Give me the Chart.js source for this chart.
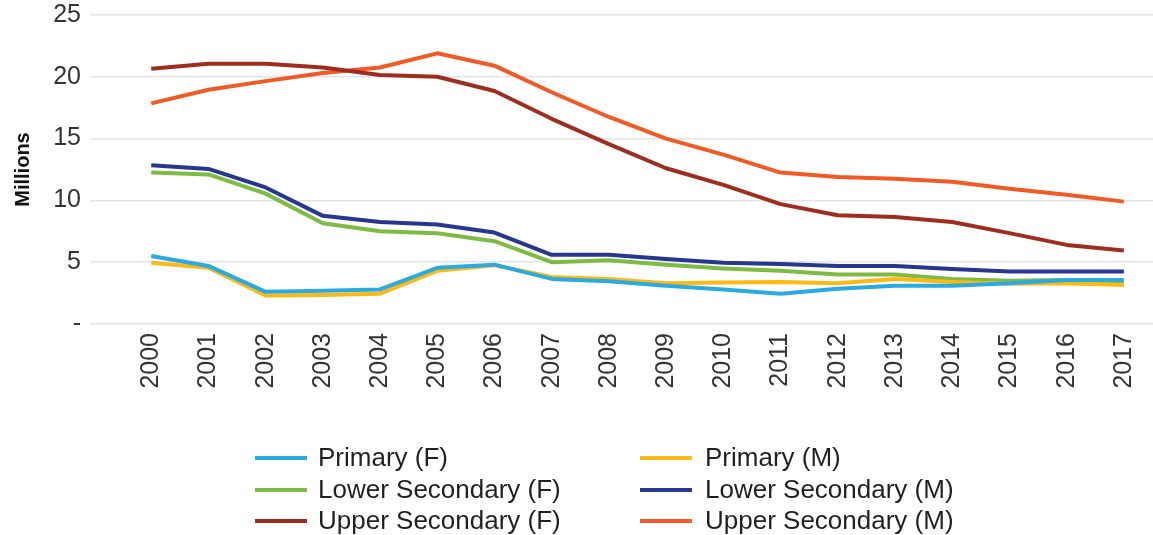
<!DOCTYPE html>
<html lang="en">
<head>
    <meta charset="UTF-8">
    <title>Enrolment by level and sex</title>
    <script src="https://cdn.jsdelivr.net/npm/chart.js"></script>
    <style>
        body { margin: 0; background: #fff; }
    </style>
</head>
<body>
    <div style="width: 1153px; height: 535px;">
        <canvas id="lineChart"></canvas>
    </div>
    <script>
        const years = [2000, 2001, 2002, 2003, 2004, 2005, 2006, 2007, 2008,
                       2009, 2010, 2011, 2012, 2013, 2014, 2015, 2016, 2017];

        const primaryF = [5.5, 4.7, 2.6, 2.7, 2.8, 4.55, 4.8, 3.65, 3.45, 3.1, 2.8, 2.45, 2.85, 3.1, 3.1, 3.3, 3.55, 3.55];
        const primaryM = [4.95, 4.55, 2.3, 2.35, 2.45, 4.3, 4.75, 3.8, 3.65, 3.3, 3.35, 3.4, 3.3, 3.65, 3.4, 3.25, 3.3, 3.15];
        const lowerSecF = [12.25, 12.1, 10.55, 8.15, 7.5, 7.35, 6.7, 5.0, 5.15, 4.8, 4.5, 4.3, 4.0, 4.0, 3.65, 3.5, 3.55, 3.35];
        const lowerSecM = [12.85, 12.55, 11.05, 8.75, 8.25, 8.05, 7.4, 5.6, 5.6, 5.25, 4.95, 4.85, 4.7, 4.7, 4.45, 4.25, 4.25, 4.25];
        const upperSecF = [20.65, 21.05, 21.05, 20.75, 20.15, 20.0, 18.85, 16.6, 14.55, 12.6, 11.25, 9.7, 8.8, 8.65, 8.25, 7.35, 6.4, 5.95];
        const upperSecM = [17.85, 18.95, 19.65, 20.3, 20.75, 21.9, 20.9, 18.75, 16.75, 15.0, 13.7, 12.25, 11.9, 11.75, 11.5, 10.95, 10.45, 9.9];

        const seriesNames = ['Primary (F)', 'Primary (M)', 'Lower Secondary (F)',
                             'Lower Secondary (M)', 'Upper Secondary (F)', 'Upper Secondary (M)'];
        const seriesValues = [primaryF, primaryM, lowerSecF, lowerSecM, upperSecF, upperSecM];
        const seriesColors = ['#29abe2', '#fdb913', '#7dbb42', '#27378f', '#9e2d20', '#f15a24'];

        const yTicks = [0, 5, 10, 15, 20, 25];

        // legend in two fixed columns, drawn on the canvas
        const gridLegend = {
            id: 'gridLegend',
            afterDraw(chart) {
                const c = chart.ctx;
                const cols = [{ sx: 255, tx: 318 }, { sx: 640, tx: 705 }];
                const rows = [458, 490, 521];
                c.save();
                c.font = '26px "Liberation Sans", Arial, sans-serif';
                c.textBaseline = 'middle';
                chart.data.datasets.forEach((ds, i) => {
                    const col = cols[i % 2];
                    const y = rows[Math.floor(i / 2)];
                    c.strokeStyle = ds.borderColor;
                    c.lineWidth = 4;
                    c.beginPath();
                    c.moveTo(col.sx, y);
                    c.lineTo(col.sx + 52, y);
                    c.stroke();
                    c.fillStyle = '#231f20';
                    c.fillText(ds.label, col.tx, y + 1);
                });
                c.restore();
            }
        };

        const ctx = document.getElementById('lineChart').getContext('2d');
        const lineChart = new Chart(ctx, {
            type: 'line',
            data: {
                datasets: seriesNames.map((name, i) => ({
                    label: name,
                    data: years.map((yr, j) => ({ x: yr, y: seriesValues[i][j] })),
                    borderColor: seriesColors[i],
                    backgroundColor: seriesColors[i],
                    borderWidth: 4,
                    pointRadius: 0,
                    tension: 0,
                    fill: false,
                    borderJoinStyle: 'round'
                }))
            },
            options: {
                responsive: true,
                maintainAspectRatio: false,
                animation: false,
                layout: { padding: { top: 15, right: 0, bottom: 100, left: 0 } },
                plugins: {
                    legend: { display: false },
                    tooltip: { enabled: false }
                },
                scales: {
                    x: {
                        type: 'linear',
                        min: 1998.93,
                        max: 2017.51,
                        grid: { display: false },
                        border: { display: false },
                        afterBuildTicks: (axis) => { axis.ticks = years.map(v => ({ value: v })); },
                        afterFit: (axis) => {
                            axis.height = 111;
                            axis.paddingLeft = 0;
                            axis.paddingRight = 0;
                        },
                        ticks: {
                            autoSkip: false,
                            minRotation: 90,
                            maxRotation: 90,
                            padding: 1,
                            color: '#333',
                            font: { family: '"Liberation Sans", Arial, sans-serif', size: 25 },
                            callback: (v) => String(v)
                        }
                    },
                    y: {
                        min: 0,
                        max: 25,
                        afterBuildTicks: (axis) => { axis.ticks = yTicks.map(v => ({ value: v })); },
                        afterFit: (axis) => {
                            axis.width = 90;
                            axis.paddingTop = 0;
                            axis.paddingBottom = 0;
                        },
                        grid: { color: '#e4e4e4', lineWidth: 1.5, drawTicks: false },
                        border: { display: false },
                        title: {
                            display: true,
                            text: 'Millions',
                            color: '#111',
                            padding: { top: 11, bottom: 0 },
                            font: { family: '"Liberation Sans", Arial, sans-serif', size: 20, weight: 'bold' }
                        },
                        ticks: {
                            padding: 9,
                            color: '#333',
                            font: { family: '"Liberation Sans", Arial, sans-serif', size: 25 },
                            callback: (v) => v === 0 ? '-' : String(v)
                        }
                    }
                }
            },
            plugins: [gridLegend]
        });
    </script>
</body>
</html>
